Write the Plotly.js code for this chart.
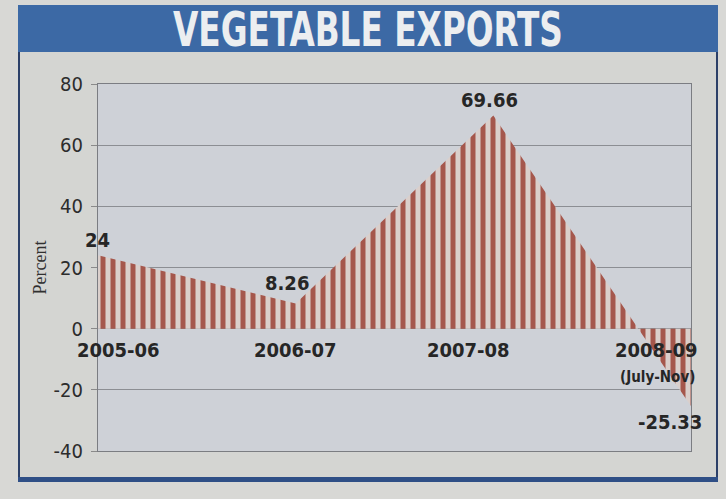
<!DOCTYPE html>
<html>
<head>
<meta charset="utf-8">
<script src="https://cdn.plot.ly/plotly-3.0.1.min.js"></script>
<style>
  html, body { margin:0; padding:0; width:726px; height:499px; background:#d8d8d5; overflow:hidden; }
  #frame { position:absolute; left:18px; top:5px; width:696px; height:472px; background:#d4d5d2;
           border-left:2px solid #2b3f68; border-right:2px solid #2b3f68; }
  #banner { position:absolute; left:18px; top:5px; width:700px; height:47px; background:#3c69a5; }
  #bottom { position:absolute; left:18px; top:477px; width:700px; height:5px; background:#2f4f86; }
  #chart { position:absolute; left:0; top:0; width:726px; height:499px; }
</style>
</head>
<body>
<div id="frame"></div>
<div id="banner"></div>
<div id="bottom"></div>
<div id="chart"></div>
<script>
// ---- data ----
const periods = ['2005-06', '2006-07', '2007-08', '2008-09'];
const growth = [24, 8.26, 69.66, -25.33];
const valueLabels = ['24', '8.26', '69.66', '-25.33'];
const periodNote = '(July-Nov)';
const yTicks = [-40, -20, 0, 20, 40, 60, 80];
const yTickText = ['-40', '-20', '0', '20', '40', '60', '80'];

// ---- label styling (offsets in px) ----
const periodShift = [20, 0, -25, -35];
const valueShiftX = [-1, -9, -4, -21];
const valueShiftY = [15, 20, 16, -16];

const xIdx = periods.map((p, i) => i);
const txtFont = { family: 'DejaVu Sans Condensed, Liberation Sans, Arial, sans-serif', size: 20, color: '#262626', weight: 'bold' };

const annotations = [];
periods.forEach((p, i) => {
  annotations.push({ x: xIdx[i], y: 0, xref: 'x', yref: 'y', text: p, showarrow: false,
    xanchor: 'center', yanchor: 'middle', xshift: periodShift[i], yshift: -21, font: txtFont });
  annotations.push({ x: xIdx[i], y: growth[i], xref: 'x', yref: 'y', text: valueLabels[i], showarrow: false,
    xanchor: 'center', yanchor: 'middle', xshift: valueShiftX[i], yshift: valueShiftY[i], font: txtFont });
});
annotations.push({ x: xIdx[3], y: 0, xref: 'x', yref: 'y', text: periodNote, showarrow: false,
  xanchor: 'center', yanchor: 'middle', xshift: -34, yshift: -48,
  font: { family: 'DejaVu Sans Condensed, Liberation Sans, Arial, sans-serif', size: 15, color: '#262626', weight: 'bold' } });

const trace = {
  type: 'scatter', mode: 'lines', x: xIdx, y: growth,
  fill: 'tozeroy',
  fillpattern: { shape: '|', size: 10, solidity: 0.5, fgcolor: '#a5574c', bgcolor: '#dacfcb', fillmode: 'replace' },
  line: { width: 0, color: 'rgba(0,0,0,0)' },
  hoverinfo: 'skip'
};

const layout = {
  width: 726, height: 499,
  margin: { l: 98, r: 35, t: 84, b: 48 },
  paper_bgcolor: 'rgba(0,0,0,0)',
  plot_bgcolor: '#ced1d7',
  showlegend: false,
  title: { text: '<b>VEGETABLE EXPORTS</b>', xref: 'container', yref: 'container',
    x: 0.507, y: 0.942, xanchor: 'center', yanchor: 'middle',
    font: { family: 'DejaVu Sans Condensed, Liberation Sans, Arial, sans-serif', size: 44, color: '#eceef0' } },
  xaxis: { range: [0, 3], showgrid: false, zeroline: false, showticklabels: false, ticks: '',
    showline: true, mirror: true, linecolor: '#7b7d82', linewidth: 1, fixedrange: true },
  yaxis: { range: [-40, 80], tickvals: yTicks, ticktext: yTickText, showgrid: true, gridcolor: '#8c8e93', gridwidth: 1,
    zeroline: false, showline: true, mirror: true, linecolor: '#7b7d82', linewidth: 1,
    ticks: 'outside', ticklen: 6, tickcolor: '#8a8a8a', ticklabelstandoff: 4,
    tickfont: { family: 'DejaVu Sans Condensed, Liberation Sans, Arial, sans-serif', size: 20, color: '#2c2c2c' },
    title: { text: 'Percent', standoff: 2, font: { family: 'Liberation Serif, Times New Roman, serif', size: 18, color: '#303030' } },
    fixedrange: true },
  annotations: annotations
};

Plotly.newPlot('chart', [trace], layout, { displayModeBar: false, staticPlot: true }).then(gd => {
  // narrow the banner title to match the condensed newspaper type
  const t = gd.querySelector('.gtitle');
  if (t) {
    const b = t.getBBox();
    const cx = b.x + b.width / 2, cy = b.y + b.height / 2;
    const sx = 390 / b.width, sy = 1.08;
    const tx = 368 - cx, ty = 29 - cy;
    t.setAttribute('transform', `translate(${cx + tx},${cy + ty}) scale(${sx},${sy}) translate(${-cx},${-cy})`);
  }
});
</script>
</body>
</html>
